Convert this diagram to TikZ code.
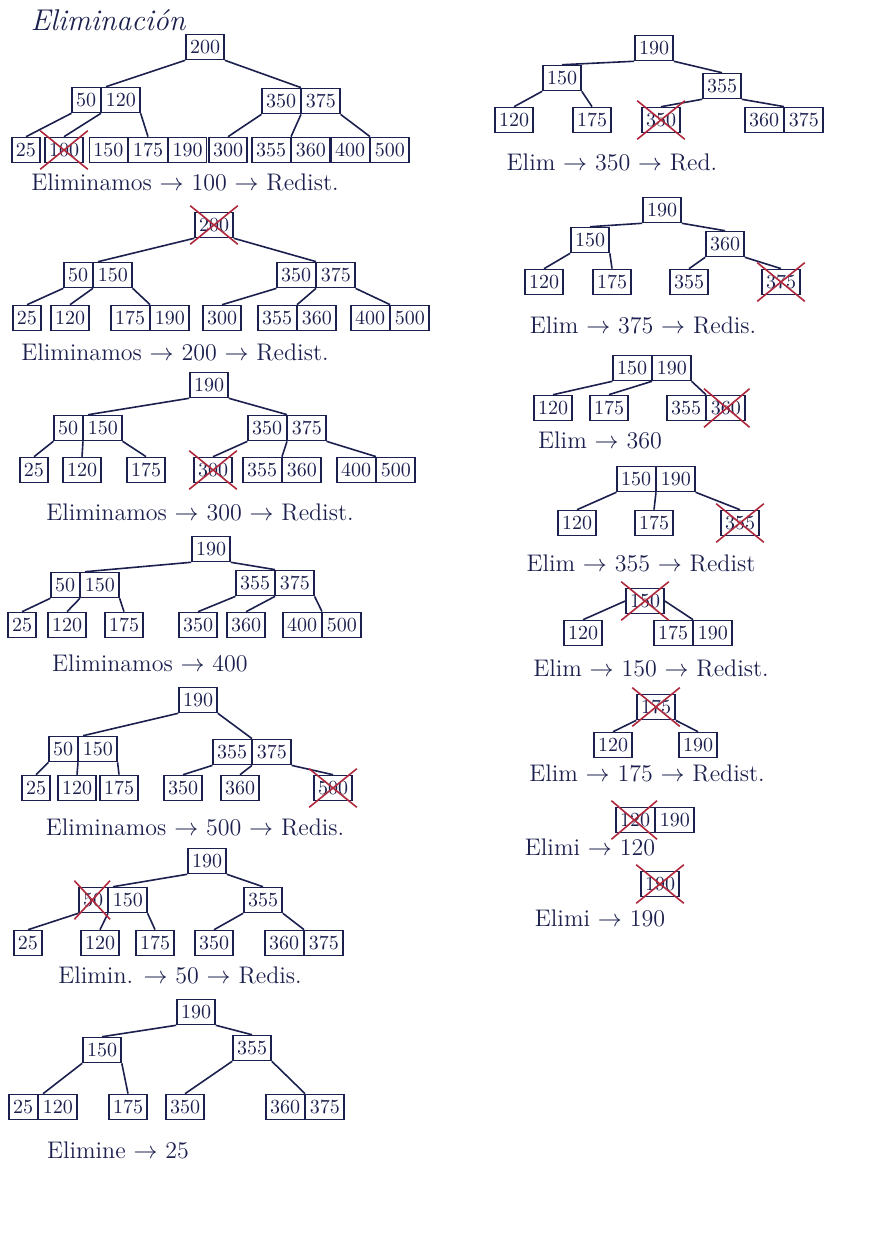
\documentclass[tikz,border=0pt]{standalone}
\usetikzlibrary{shapes.multipart}
\definecolor{ink}{RGB}{28,32,78}
\definecolor{xred}{RGB}{175,40,60}
\tikzset{
 key/.style={draw=ink, text=ink, line width=0.8pt, inner xsep=2pt, inner ysep=2.8pt, font=\fontsize{10}{11}\selectfont},
 k2/.style={key, rectangle split, rectangle split horizontal, rectangle split parts=2},
 k3/.style={key, rectangle split, rectangle split horizontal, rectangle split parts=3},
 edge/.style={draw=ink, line width=0.8pt},
 lbl/.style={text=ink, font=\fontsize{12}{13}\selectfont},
 xmark/.style={draw=xred, line width=0.8pt},
}
\newcommand\crossnode[1]{\draw[xmark] ([shift={(-2pt,-3pt)}]#1.south west) -- ([shift={(2pt,3pt)}]#1.north east) ([shift={(-2pt,3pt)}]#1.north west) -- ([shift={(2pt,-3pt)}]#1.south east);}
\newcommand\crossfirst[1]{\draw[xmark] ([shift={(-2pt,-3pt)}]#1.south west) -- ([shift={(1pt,3pt)}]#1.one split north) ([shift={(-2pt,3pt)}]#1.north west) -- ([shift={(1pt,-3pt)}]#1.one split south);}
\newcommand\crosslast[1]{\draw[xmark] ([shift={(-1pt,-3pt)}]#1.one split south) -- ([shift={(2pt,3pt)}]#1.north east) ([shift={(-1pt,3pt)}]#1.one split north) -- ([shift={(2pt,-3pt)}]#1.south east);}
\begin{document}
\begin{tikzpicture}[x=0.5pt, y=-0.5pt]
\fill[white] (0,0) rectangle (868,1252);
\useasboundingbox (0,0) rectangle (868,1252);
\node[text=ink, font=\fontsize{15}{16}\selectfont\itshape] (title) at (108,20) {Eliminación};

% ---------- Tree 1
\node[key] (t1r) at (205,47) {200};
\node[k2] (t1l) at (106,100) {50\nodepart{two}120};
\node[k2] (t1m) at (301,101) {350\nodepart{two}375};
\node[key] (t1a) at (26,150) {25};
\node[key] (t1b) at (64,150) {100};
\node[k3] (t1c) at (148,150) {150\nodepart{two}175\nodepart{three}190};
\node[key] (t1d) at (228,150) {300};
\node[k2] (t1e) at (291,150) {355\nodepart{two}360};
\node[k2] (t1f) at (370,150) {400\nodepart{two}500};
\draw[edge] (t1r.south west) -- (t1l.north) (t1r.south east) -- (t1m.north);
\draw[edge] (t1l.south west) -- (t1a.north) (t1l.one split south) -- (t1b.north) (t1l.south east) -- (t1c.north);
\draw[edge] (t1m.south west) -- (t1d.north) (t1m.one split south) -- (t1e.north) (t1m.south east) -- (t1f.north);
\crossnode{t1b}
\node[lbl] (l1) at (185,182) {Eliminamos $\rightarrow$ 100 $\rightarrow$ Redist.};

% ---------- Tree 2
\node[key] (t2r) at (214,225) {200};
\node[k2] (t2l) at (98,275) {50\nodepart{two}150};
\node[k2] (t2m) at (316,275) {350\nodepart{two}375};
\node[key] (t2a) at (27,318) {25};
\node[key] (t2b) at (70,318) {120};
\node[k2] (t2c) at (150,318) {175\nodepart{two}190};
\node[key] (t2d) at (222,318) {300};
\node[k2] (t2e) at (297,318) {355\nodepart{two}360};
\node[k2] (t2f) at (390,318) {400\nodepart{two}500};
\draw[edge] (t2r.south west) -- (t2l.north) (t2r.south east) -- (t2m.north);
\draw[edge] (t2l.south west) -- (t2a.north) (t2l.one split south) -- (t2b.north) (t2l.south east) -- (t2c.north);
\draw[edge] (t2m.south west) -- (t2d.north) (t2m.one split south) -- (t2e.north) (t2m.south east) -- (t2f.north);
\crossnode{t2r}
\node[lbl] (l2) at (175,352) {Eliminamos $\rightarrow$ 200 $\rightarrow$ Redist.};

% ---------- Tree 3
\node[key] (t3r) at (209,385) {190};
\node[k2] (t3l) at (88,428) {50\nodepart{two}150};
\node[k2] (t3m) at (287,428) {350\nodepart{two}375};
\node[key] (t3a) at (34,470) {25};
\node[key] (t3b) at (82,470) {120};
\node[key] (t3c) at (146,470) {175};
\node[key] (t3d) at (213,470) {300};
\node[k2] (t3e) at (282,470) {355\nodepart{two}360};
\node[k2] (t3f) at (376,470) {400\nodepart{two}500};
\draw[edge] (t3r.south west) -- (t3l.north) (t3r.south east) -- (t3m.north);
\draw[edge] (t3l.south west) -- (t3a.north) (t3l.one split south) -- (t3b.north) (t3l.south east) -- (t3c.north);
\draw[edge] (t3m.south west) -- (t3d.north) (t3m.one split south) -- (t3e.north) (t3m.south east) -- (t3f.north);
\crossnode{t3d}
\node[lbl] (l3) at (200,512) {Eliminamos $\rightarrow$ 300 $\rightarrow$ Redist.};

% ---------- Tree 4
\node[key] (t4r) at (211,549) {190};
\node[k2] (t4l) at (85,585) {50\nodepart{two}150};
\node[k2] (t4m) at (275,583) {355\nodepart{two}375};
\node[key] (t4a) at (22,625) {25};
\node[key] (t4b) at (67,625) {120};
\node[key] (t4c) at (124,625) {175};
\node[key] (t4d) at (198,625) {350};
\node[key] (t4e) at (246,625) {360};
\node[k2] (t4f) at (322,625) {400\nodepart{two}500};
\draw[edge] (t4r.south west) -- (t4l.north) (t4r.south east) -- (t4m.north);
\draw[edge] (t4l.south west) -- (t4a.north) (t4l.one split south) -- (t4b.north) (t4l.south east) -- (t4c.north);
\draw[edge] (t4m.south west) -- (t4d.north) (t4m.one split south) -- (t4e.north) (t4m.south east) -- (t4f.north);
\node[lbl] (l4) at (150,663) {Eliminamos $\rightarrow$ 400};

% ---------- Tree 5
\node[key] (t5r) at (198,700) {190};
\node[k2] (t5l) at (83,749) {50\nodepart{two}150};
\node[k2] (t5m) at (252,752) {355\nodepart{two}375};
\node[key] (t5a) at (36,788) {25};
\node[key] (t5b) at (77,788) {120};
\node[key] (t5c) at (119,788) {175};
\node[key] (t5d) at (183,788) {350};
\node[key] (t5e) at (240,788) {360};
\node[key] (t5f) at (333,788) {500};
\draw[edge] (t5r.south west) -- (t5l.north) (t5r.south east) -- (t5m.north);
\draw[edge] (t5l.south west) -- (t5a.north) (t5l.one split south) -- (t5b.north) (t5l.south east) -- (t5c.north);
\draw[edge] (t5m.south west) -- (t5d.north) (t5m.one split south) -- (t5e.north) (t5m.south east) -- (t5f.north);
\crossnode{t5f}
\node[lbl] (l5) at (195,827) {Eliminamos $\rightarrow$ 500 $\rightarrow$ Redis.};

% ---------- Tree 6
\node[key] (t6r) at (207,861) {190};
\node[k2] (t6l) at (113,900) {50\nodepart{two}150};
\node[key] (t6m) at (263,900) {355};
\node[key] (t6a) at (28,943) {25};
\node[key] (t6b) at (100,943) {120};
\node[key] (t6c) at (155,943) {175};
\node[key] (t6d) at (214,943) {350};
\node[k2] (t6e) at (304,943) {360\nodepart{two}375};
\draw[edge] (t6r.south west) -- (t6l.north) (t6r.south east) -- (t6m.north);
\draw[edge] (t6l.south west) -- (t6a.north) (t6l.one split south) -- (t6b.north) (t6l.south east) -- (t6c.north);
\draw[edge] (t6m.south west) -- (t6d.north) (t6m.south east) -- (t6e.north);
\crossfirst{t6l}
\node[lbl] (l6) at (180,975) {Elimin. $\rightarrow$ 50 $\rightarrow$ Redis.};

% ---------- Tree 7
\node[key] (t7r) at (196,1012) {190};
\node[key] (t7l) at (102,1050) {150};
\node[key] (t7m) at (252,1048) {355};
\node[k2] (t7a) at (43,1107) {25\nodepart{two}120};
\node[key] (t7b) at (128,1107) {175};
\node[key] (t7c) at (185,1107) {350};
\node[k2] (t7d) at (305,1107) {360\nodepart{two}375};
\draw[edge] (t7r.south west) -- (t7l.north) (t7r.south east) -- (t7m.north);
\draw[edge] (t7l.south west) -- (t7a.north) (t7l.south east) -- (t7b.north);
\draw[edge] (t7m.south west) -- (t7c.north) (t7m.south east) -- (t7d.north);
\node[lbl] (l7) at (118,1150) {Elimine $\rightarrow$ 25};

% ---------- Tree 8
\node[key] (t8r) at (654,48) {190};
\node[key] (t8l) at (562,78) {150};
\node[key] (t8m) at (722,86) {355};
\node[key] (t8a) at (514,120) {120};
\node[key] (t8b) at (592,120) {175};
\node[key] (t8c) at (661,120) {350};
\node[k2] (t8d) at (784,120) {360\nodepart{two}375};
\draw[edge] (t8r.south west) -- (t8l.north) (t8r.south east) -- (t8m.north);
\draw[edge] (t8l.south west) -- (t8a.north) (t8l.south east) -- (t8b.north);
\draw[edge] (t8m.south west) -- (t8c.north) (t8m.south east) -- (t8d.north);
\crossnode{t8c}
\node[lbl] (l8) at (612,162) {Elim $\rightarrow$ 350 $\rightarrow$ Red.};

% ---------- Tree 9
\node[key] (t9r) at (662,210) {190};
\node[key] (t9l) at (590,240) {150};
\node[key] (t9m) at (725,244) {360};
\node[key] (t9a) at (544,282) {120};
\node[key] (t9b) at (612,282) {175};
\node[key] (t9c) at (689,282) {355};
\node[key] (t9d) at (781,282) {375};
\draw[edge] (t9r.south west) -- (t9l.north) (t9r.south east) -- (t9m.north);
\draw[edge] (t9l.south west) -- (t9a.north) (t9l.south east) -- (t9b.north);
\draw[edge] (t9m.south west) -- (t9c.north) (t9m.south east) -- (t9d.north);
\crossnode{t9d}
\node[lbl] (l9) at (643,325) {Elim $\rightarrow$ 375 $\rightarrow$ Redis.};

% ---------- Tree 10
\node[k2] (t10r) at (652,368) {150\nodepart{two}190};
\node[key] (t10a) at (553,408) {120};
\node[key] (t10b) at (609,408) {175};
\node[k2] (t10c) at (706,408) {355\nodepart{two}360};
\draw[edge] (t10r.south west) -- (t10a.north) (t10r.one split south) -- (t10b.north) (t10r.south east) -- (t10c.north);
\crosslast{t10c}
\node[lbl] (l10) at (600,440) {Elim $\rightarrow$ 360};

% ---------- Tree 11
\node[k2] (t11r) at (656,479) {150\nodepart{two}190};
\node[key] (t11a) at (577,523) {120};
\node[key] (t11b) at (654,523) {175};
\node[key] (t11c) at (740,523) {355};
\draw[edge] (t11r.south west) -- (t11a.north) (t11r.one split south) -- (t11b.north) (t11r.south east) -- (t11c.north);
\crossnode{t11c}
\node[lbl] (l11) at (641,563) {Elim $\rightarrow$ 355 $\rightarrow$ Redist};

% ---------- Tree 12
\node[key] (t12r) at (645,601) {150};
\node[key] (t12a) at (583,633) {120};
\node[k2] (t12b) at (693,633) {175\nodepart{two}190};
\draw[edge] (t12r.west) -- (t12a.north) (t12r.east) -- (t12b.north);
\crossnode{t12r}
\node[lbl] (l12) at (651,668) {Elim $\rightarrow$ 150 $\rightarrow$ Redist.};

% ---------- Tree 13
\node[key] (t13r) at (656,707) {175};
\node[key] (t13a) at (613,745) {120};
\node[key] (t13b) at (698,745) {190};
\draw[edge] (t13r.south west) -- (t13a.north) (t13r.south east) -- (t13b.north);
\crossnode{t13r}
\node[lbl] (l13) at (647,773) {Elim $\rightarrow$ 175 $\rightarrow$ Redist.};

% ---------- Tree 14
\node[k2] (t14r) at (655,820) {120\nodepart{two}190};
\crossfirst{t14r}
\node[lbl] (l14) at (590,847) {Elimi $\rightarrow$ 120};

% ---------- Tree 15
\node[key] (t15r) at (660,884) {190};
\crossnode{t15r}
\node[lbl] (l15) at (600,918) {Elimi $\rightarrow$ 190};
\end{tikzpicture}
\end{document}
